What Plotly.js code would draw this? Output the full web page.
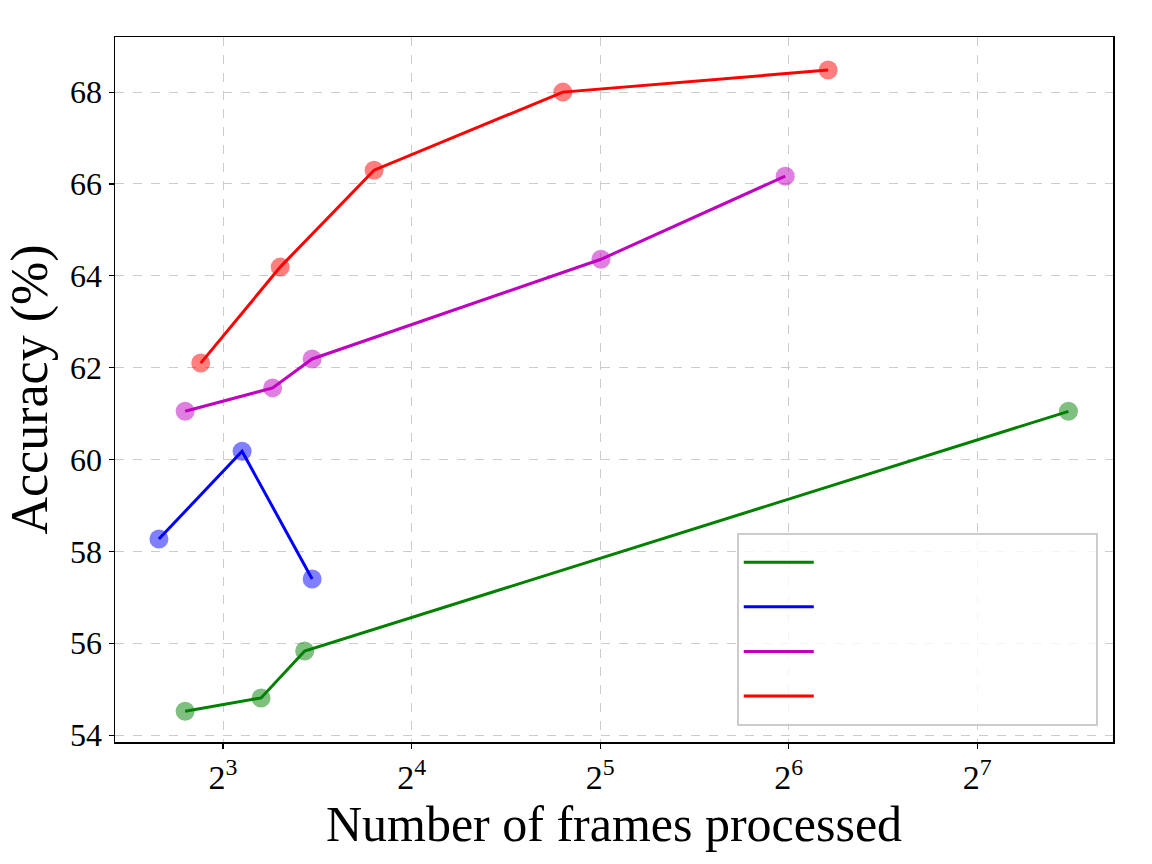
<!DOCTYPE html>
<html><head><meta charset="utf-8">
<script src="https://cdn.plot.ly/plotly-3.0.1.min.js"></script>
<style>body{margin:0;background:#fff}#chart{width:1152px;height:864px}</style>
</head><body><div id="chart"></div>
<script>
// Data
const greenX = [6.96, 9.2, 10.8, 179];
const greenY = [54.52, 54.81, 55.83, 61.05];
const blueX = [6.32, 8.58, 11.1];
const blueY = [58.27, 60.18, 57.40];
const purpleX = [6.96, 9.6, 11.1, 32.1, 63.2];
const purpleY = [61.05, 61.56, 62.19, 64.36, 66.17];
const redX = [7.37, 9.87, 13.94, 27.9, 74];
const redY = [62.10, 64.19, 66.30, 68.0, 68.48];
const blankName = '\u00a0'.repeat(34);
const seriesNames = [blankName, blankName, blankName, blankName];
const xTickVals = [8, 16, 32, 64, 128];
const xTickText = ['2<sup>3</sup>', '2<sup>4</sup>', '2<sup>5</sup>', '2<sup>6</sup>', '2<sup>7</sup>'];

const series = [
  {x: greenX, y: greenY, c: 'green'},
  {x: blueX, y: blueY, c: 'blue'},
  {x: purpleX, y: purpleY, c: '#bf00bf'},
  {x: redX, y: redY, c: 'red'}
];
const traces = [];
series.forEach((s, i) => {
  traces.push({x: s.x, y: s.y, mode: 'markers', type: 'scatter', showlegend: false,
    marker: {size: 19, color: s.c, opacity: 0.5}, hoverinfo: 'skip'});
});
series.forEach((s, i) => {
  traces.push({x: s.x, y: s.y, mode: 'lines', type: 'scatter', name: seriesNames[i],
    line: {color: s.c, width: 3}});
});

const font = {family: 'Liberation Serif, Times New Roman, serif', color: '#000'};
const layout = {
  width: 1152, height: 864,
  margin: {l: 115, r: 39, t: 37, b: 122},
  paper_bgcolor: '#fff', plot_bgcolor: '#fff',
  font: font,
  xaxis: {
    type: 'log', range: [0.7306, 2.324],
    tickvals: xTickVals, ticktext: xTickText,
    tickfont: {family: font.family, size: 34, color: '#000'},
    ticks: 'outside', ticklen: 5, tickwidth: 1.2, tickcolor: '#000',
    showline: true, linecolor: '#000', linewidth: 1.5, mirror: true,
    showgrid: true, gridcolor: '#cccccc', griddash: 'dash', gridwidth: 1,
    zeroline: false,
    title: {text: 'Number of frames processed', font: {family: font.family, size: 50, color: '#000'}, standoff: 10}
  },
  yaxis: {
    range: [53.85, 69.2], dtick: 2, tick0: 54,
    tickfont: {family: font.family, size: 32, color: '#000'},
    ticks: 'outside', ticklen: 5, tickwidth: 1.2, tickcolor: '#000',
    showline: true, linecolor: '#000', linewidth: 1.5, mirror: true,
    showgrid: true, gridcolor: '#cccccc', griddash: 'dash', gridwidth: 1,
    zeroline: false,
    title: {text: 'Accuracy (%)', font: {family: font.family, size: 52, color: '#000'}, standoff: 6}
  },
  legend: {
    x: 0.623, y: 0.2965, xanchor: 'left', yanchor: 'top',
    bgcolor: 'rgba(255,255,255,0.8)', bordercolor: '#cccccc', borderwidth: 2,
    font: {family: font.family, size: 32, color: '#000'},
    itemwidth: 70, tracegroupgap: 0
  }
};
Plotly.newPlot('chart', traces, layout, {displayModeBar: false, staticPlot: true});
</script></body></html>
